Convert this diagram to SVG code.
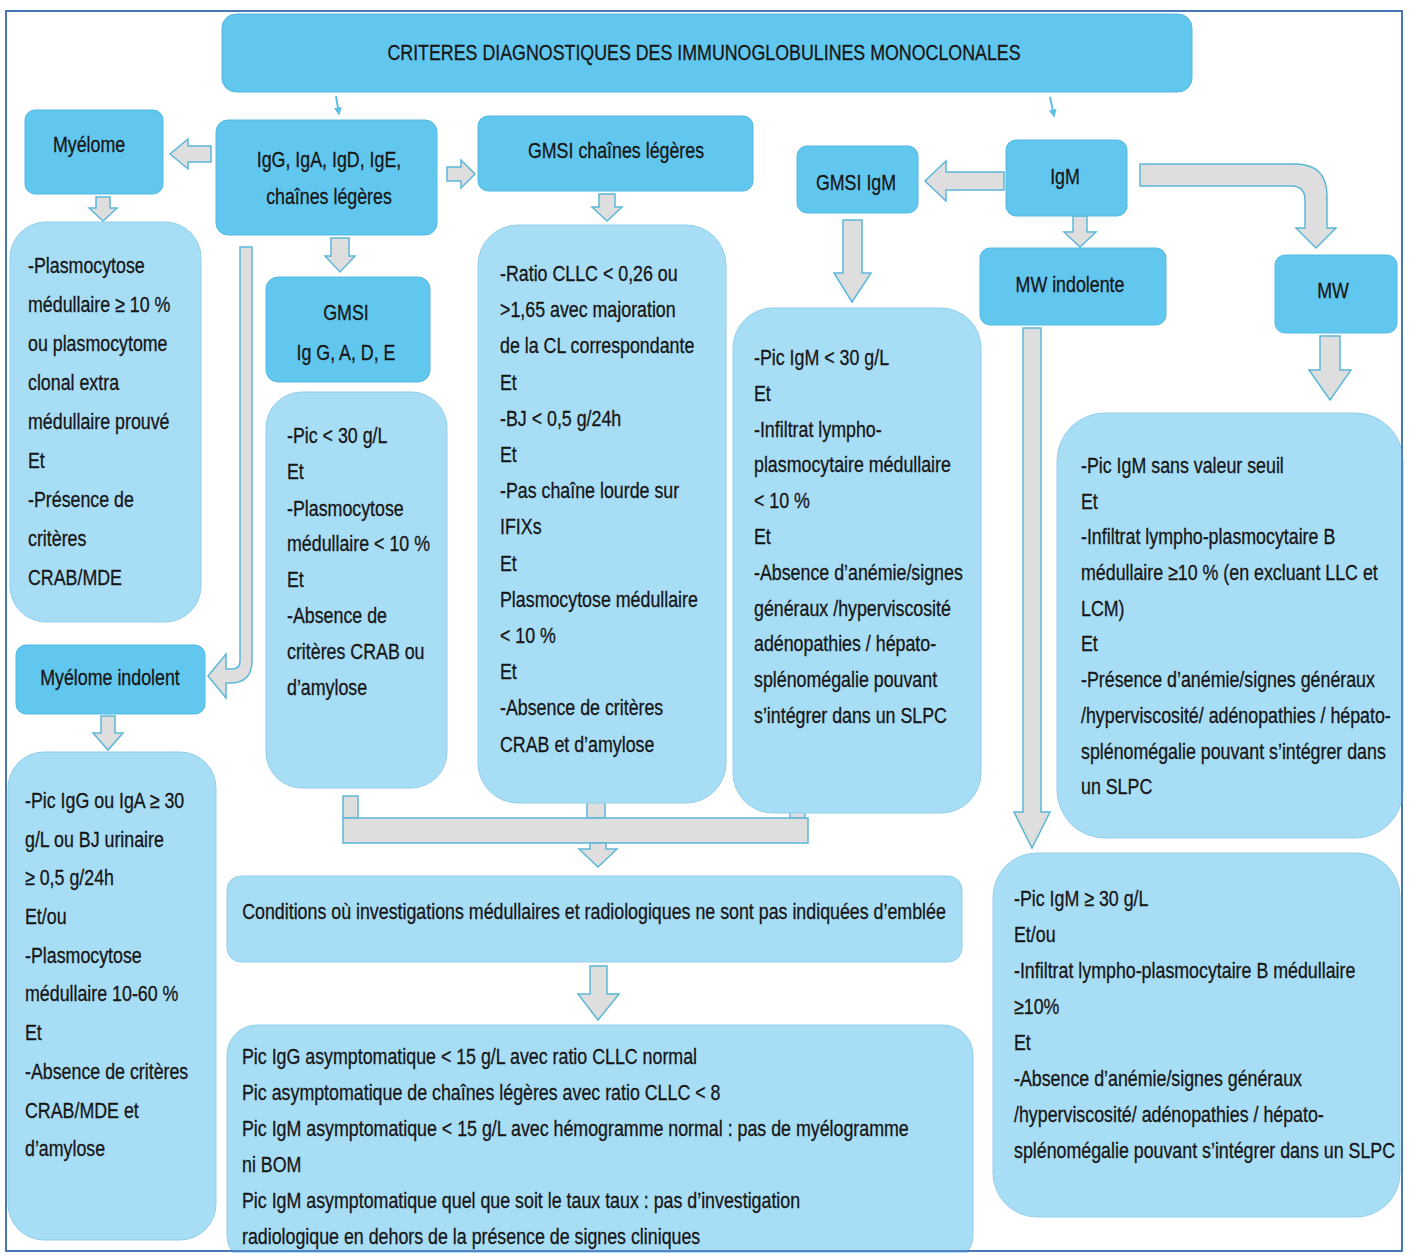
<svg xmlns="http://www.w3.org/2000/svg" width="1410" height="1253" viewBox="0 0 1410 1253">
  <defs>
    <style>
      .frame { fill: #ffffff; stroke: #3f72b5; stroke-width: 1.6; }
      .head { fill: #62c7ef; stroke: #52b9e2; stroke-width: 1; }
      .crit { fill: #a8ddf6; stroke: #92cfec; stroke-width: 1; }
      .blk { fill: #dedede; stroke: #5cb8d8; stroke-width: 1.5; stroke-linejoin: miter; }
      .thin { fill: none; stroke: #5cbfe6; stroke-width: 2; }
      .t { font-family: "Liberation Sans", Arial, sans-serif; font-size: 22px; fill: #161616; stroke: #161616; stroke-width: 0.3; }
      .c { text-anchor: middle; }
    </style>
    <marker id="tip" viewBox="0 0 10 10" refX="8" refY="5" markerWidth="4" markerHeight="4" orient="auto">
      <path d="M0,0 L10,5 L0,10 Z" fill="#5cbfe6"/>
    </marker>
  </defs>

  <!-- page frame -->
  <rect class="frame" x="6" y="11" width="1396" height="1240"/>

  <!-- connectors -->
  <g id="connectors">
    <!-- title to the two families -->
    <path class="thin" d="M336,96 L339,114" marker-end="url(#tip)"/>
    <path class="thin" d="M1050,97 L1054,116" marker-end="url(#tip)"/>
    <!-- IgG box to Myélome -->
    <path class="blk" d="M211,146 L188,146 L188,139 L170,154 L188,169 L188,162 L211,162 Z"/>
    <!-- IgG box to GMSI chaînes légères -->
    <path class="blk" d="M447,167 L461,167 L461,160 L475,174 L461,188 L461,181 L447,181 Z"/>
    <!-- Myélome to its criteria -->
    <path class="blk" d="M96,197 L110,197 L110,208 L117,208 L103,221 L89,208 L96,208 Z"/>
    <!-- IgG box to GMSI Ig G, A, D, E -->
    <path class="blk" d="M331,238 L349,238 L349,256 L355,256 L340,272 L325,256 L331,256 Z"/>
    <!-- GMSI chaînes légères to its criteria -->
    <path class="blk" d="M599,194 L615,194 L615,207 L622,207 L607,221 L592,207 L599,207 Z"/>
    <!-- IgG box down to Myélome indolent -->
    <path class="blk" d="M240,247 L252,247 L252,661 Q252,683 230,683 L226,683 L226,698 L208,676 L226,654 L226,669 L232,669 Q240,669 240,661 Z"/>
    <!-- IgM to GMSI IgM -->
    <path class="blk" d="M1004,172 L946,172 L946,161 L925,181 L946,201 L946,190 L1004,190 Z"/>
    <!-- IgM to MW -->
    <path class="blk" d="M1140,164 L1295,164 Q1327,164 1327,196 L1327,228 L1336,228 L1316,248 L1296,228 L1305,228 L1305,200 Q1305,186 1291,186 L1140,186 Z"/>
    <!-- IgM to MW indolente -->
    <path class="blk" d="M1073,216 L1087,216 L1087,232 L1096,232 L1080,247 L1064,232 L1073,232 Z"/>
    <!-- GMSI IgM to its criteria -->
    <path class="blk" d="M843,220 L862,220 L862,273 L871,273 L852,302 L834,273 L843,273 Z"/>
    <!-- MW indolente to its criteria -->
    <path class="blk" d="M1023,328 L1041,328 L1041,812 L1050,812 L1032,848 L1014,812 L1023,812 Z"/>
    <!-- MW to its criteria -->
    <path class="blk" d="M1320,336 L1340,336 L1340,370 L1351,370 L1330,400 L1309,370 L1320,370 Z"/>
    <!-- Myélome indolent to its criteria -->
    <path class="blk" d="M101,716 L115,716 L115,733 L123,733 L108,750 L93,733 L101,733 Z"/>
    <!-- GMSI branches merged into the conditions box -->
    <rect class="blk" x="343" y="796" width="15" height="22"/>
    <rect class="blk" x="587" y="800" width="18" height="18"/>
    <rect class="blk" x="790" y="812" width="15" height="6"/>
    <rect class="blk" x="343" y="818" width="465" height="25"/>
    <path class="blk" d="M590,843 L606,843 L606,849 L617,849 L598,867 L579,849 L590,849 Z"/>
    <!-- conditions to the list of situations -->
    <path class="blk" d="M590,966 L607,966 L607,994 L619,994 L598,1020 L578,994 L590,994 Z"/>
  </g>

  <!-- title -->
  <g id="title">
    <rect class="head" x="222" y="14" width="970" height="78" rx="14"/>
    <text class="t c" transform="translate(704,60) scale(0.81,1)">CRITERES DIAGNOSTIQUES DES IMMUNOGLOBULINES MONOCLONALES</text>
  </g>

  <g id="myelome">
    <rect class="head" x="25" y="110" width="138" height="84" rx="10"/>
    <text class="t c" transform="translate(89,152) scale(0.81,1)">Myélome</text>
  </g>

  <g id="igg-iga">
    <rect class="head" x="216" y="120" width="221" height="115" rx="12"/>
    <text class="t c" transform="translate(329,167) scale(0.81,1)"><tspan x="0" y="0">IgG, IgA, IgD, IgE,</tspan><tspan x="0" dy="37">chaînes légères</tspan></text>
  </g>

  <g id="gmsi-cl">
    <rect class="head" x="478" y="116" width="275" height="75" rx="10"/>
    <text class="t c" transform="translate(616,158) scale(0.81,1)">GMSI chaînes légères</text>
  </g>

  <g id="gmsi-igm">
    <rect class="head" x="797" y="146" width="121" height="67" rx="10"/>
    <text class="t c" transform="translate(856,190) scale(0.81,1)">GMSI  IgM</text>
  </g>

  <g id="igm">
    <rect class="head" x="1006" y="140" width="121" height="76" rx="10"/>
    <text class="t c" transform="translate(1065,184) scale(0.81,1)">IgM</text>
  </g>

  <g id="mw-indolente">
    <rect class="head" x="980" y="248" width="186" height="77" rx="10"/>
    <text class="t c" transform="translate(1070,292) scale(0.81,1)">MW indolente</text>
  </g>

  <g id="mw">
    <rect class="head" x="1275" y="255" width="122" height="78" rx="10"/>
    <text class="t c" transform="translate(1333,298) scale(0.81,1)">MW</text>
  </g>

  <g id="gmsi-igg">
    <rect class="head" x="266" y="277" width="164" height="105" rx="12"/>
    <text class="t c" transform="translate(346,320) scale(0.81,1)"><tspan x="0" y="0">GMSI</tspan><tspan x="0" dy="40">Ig G, A, D, E</tspan></text>
  </g>

  <g id="myelome-indolent">
    <rect class="head" x="16" y="645" width="189" height="69" rx="10"/>
    <text class="t c" transform="translate(110,685) scale(0.81,1)">Myélome indolent</text>
  </g>

  <!-- criteria boxes -->
  <g id="myelome-criteres">
    <rect class="crit" x="10" y="222" width="191" height="400" rx="36"/>
    <text class="t" transform="translate(28,273) scale(0.81,1)">
      <tspan x="0" y="0">-Plasmocytose</tspan>
      <tspan x="0" dy="39">médullaire ≥ 10 %</tspan>
      <tspan x="0" dy="39">ou plasmocytome</tspan>
      <tspan x="0" dy="39">clonal extra</tspan>
      <tspan x="0" dy="39">médullaire prouvé</tspan>
      <tspan x="0" dy="39">Et</tspan>
      <tspan x="0" dy="39">-Présence de</tspan>
      <tspan x="0" dy="39">critères</tspan>
      <tspan x="0" dy="39">CRAB/MDE</tspan>
    </text>
  </g>

  <g id="gmsi-igg-criteres">
    <rect class="crit" x="266" y="392" width="181" height="396" rx="36"/>
    <text class="t" transform="translate(287,443) scale(0.81,1)">
      <tspan x="0" y="0">-Pic &lt; 30 g/L</tspan>
      <tspan x="0" dy="36">Et</tspan>
      <tspan x="0" dy="37">-Plasmocytose</tspan>
      <tspan x="0" dy="35">médullaire &lt; 10 %</tspan>
      <tspan x="0" dy="36">Et</tspan>
      <tspan x="0" dy="36">-Absence de</tspan>
      <tspan x="0" dy="36">critères CRAB ou</tspan>
      <tspan x="0" dy="36">d’amylose</tspan>
    </text>
  </g>

  <g id="gmsi-cl-criteres">
    <rect class="crit" x="478" y="225" width="248" height="578" rx="40"/>
    <text class="t" transform="translate(500,281) scale(0.81,1)">
      <tspan x="0" y="0">-Ratio CLLC &lt; 0,26 ou</tspan>
      <tspan x="0" dy="36.2">&gt;1,65 avec majoration</tspan>
      <tspan x="0" dy="36.2">de la CL correspondante</tspan>
      <tspan x="0" dy="36.2">Et</tspan>
      <tspan x="0" dy="36.2">-BJ &lt; 0,5 g/24h</tspan>
      <tspan x="0" dy="36.2">Et</tspan>
      <tspan x="0" dy="36.2">-Pas chaîne lourde sur</tspan>
      <tspan x="0" dy="36.2">IFIXs</tspan>
      <tspan x="0" dy="36.2">Et</tspan>
      <tspan x="0" dy="36.2">Plasmocytose médullaire</tspan>
      <tspan x="0" dy="36.2">&lt; 10 %</tspan>
      <tspan x="0" dy="36.2">Et</tspan>
      <tspan x="0" dy="36.2">-Absence de critères</tspan>
      <tspan x="0" dy="36.2">CRAB et d’amylose</tspan>
    </text>
  </g>

  <g id="gmsi-igm-criteres">
    <rect class="crit" x="733" y="308" width="248" height="505" rx="40"/>
    <text class="t" transform="translate(754,365) scale(0.81,1)">
      <tspan x="0" y="0">-Pic IgM &lt; 30 g/L</tspan>
      <tspan x="0" dy="35.8">Et</tspan>
      <tspan x="0" dy="35.8">-Infiltrat lympho-</tspan>
      <tspan x="0" dy="35.8">plasmocytaire médullaire</tspan>
      <tspan x="0" dy="35.8">&lt; 10 %</tspan>
      <tspan x="0" dy="35.8">Et</tspan>
      <tspan x="0" dy="35.8">-Absence d’anémie/signes</tspan>
      <tspan x="0" dy="35.8">généraux /hyperviscosité</tspan>
      <tspan x="0" dy="35.8">adénopathies / hépato-</tspan>
      <tspan x="0" dy="35.8">splénomégalie pouvant</tspan>
      <tspan x="0" dy="35.8">s’intégrer dans un SLPC</tspan>
    </text>
  </g>

  <g id="mw-criteres">
    <rect class="crit" x="1057" y="413" width="346" height="425" rx="48"/>
    <text class="t" transform="translate(1081,473) scale(0.81,1)">
      <tspan x="0" y="0">-Pic IgM sans valeur seuil</tspan>
      <tspan x="0" dy="35.7">Et</tspan>
      <tspan x="0" dy="35.7">-Infiltrat lympho-plasmocytaire B</tspan>
      <tspan x="0" dy="35.7">médullaire ≥10 % (en excluant LLC et</tspan>
      <tspan x="0" dy="35.7">LCM)</tspan>
      <tspan x="0" dy="35.7">Et</tspan>
      <tspan x="0" dy="35.7">-Présence d’anémie/signes généraux</tspan>
      <tspan x="0" dy="35.7">/hyperviscosité/ adénopathies / hépato-</tspan>
      <tspan x="0" dy="35.7">splénomégalie pouvant s’intégrer dans</tspan>
      <tspan x="0" dy="35.7">un SLPC</tspan>
    </text>
  </g>

  <g id="myelome-indolent-criteres">
    <rect class="crit" x="8" y="752" width="208" height="488" rx="36"/>
    <text class="t" transform="translate(25,808) scale(0.81,1)">
      <tspan x="0" y="0">-Pic IgG ou IgA ≥ 30</tspan>
      <tspan x="0" dy="38.7">g/L ou BJ urinaire</tspan>
      <tspan x="0" dy="38.7">≥ 0,5 g/24h</tspan>
      <tspan x="0" dy="38.7">Et/ou</tspan>
      <tspan x="0" dy="38.7">-Plasmocytose</tspan>
      <tspan x="0" dy="38.7">médullaire 10-60 %</tspan>
      <tspan x="0" dy="38.7">Et</tspan>
      <tspan x="0" dy="38.7">-Absence de critères</tspan>
      <tspan x="0" dy="38.7">CRAB/MDE et</tspan>
      <tspan x="0" dy="38.7">d’amylose</tspan>
    </text>
  </g>

  <g id="conditions">
    <rect class="crit" x="227" y="876" width="735" height="86" rx="14"/>
    <text class="t c" transform="translate(594,919) scale(0.81,1)">Conditions où investigations médullaires et radiologiques ne sont pas indiquées d’emblée</text>
  </g>

  <g id="situations">
    <rect class="crit" x="227" y="1025" width="746" height="240" rx="30"/>
    <text class="t" transform="translate(242,1064) scale(0.81,1)">
      <tspan x="0" y="0">Pic IgG asymptomatique &lt; 15 g/L avec ratio CLLC normal</tspan>
      <tspan x="0" dy="36">Pic asymptomatique de chaînes légères avec ratio CLLC &lt; 8</tspan>
      <tspan x="0" dy="36">Pic IgM asymptomatique &lt; 15 g/L avec hémogramme  normal : pas de myélogramme</tspan>
      <tspan x="0" dy="36">ni BOM</tspan>
      <tspan x="0" dy="36">Pic IgM asymptomatique quel que soit le taux taux : pas d’investigation</tspan>
      <tspan x="0" dy="36">radiologique en dehors de la présence de signes cliniques</tspan>
    </text>
  </g>

  <g id="mw-indolente-criteres">
    <rect class="crit" x="993" y="853" width="407" height="364" rx="44"/>
    <text class="t" transform="translate(1014,906) scale(0.81,1)">
      <tspan x="0" y="0">-Pic IgM ≥ 30 g/L</tspan>
      <tspan x="0" dy="36">Et/ou</tspan>
      <tspan x="0" dy="36">-Infiltrat lympho-plasmocytaire B médullaire</tspan>
      <tspan x="0" dy="36">≥10%</tspan>
      <tspan x="0" dy="36">Et</tspan>
      <tspan x="0" dy="36">-Absence d’anémie/signes généraux</tspan>
      <tspan x="0" dy="36">/hyperviscosité/ adénopathies / hépato-</tspan>
      <tspan x="0" dy="36">splénomégalie pouvant s’intégrer dans un SLPC</tspan>
    </text>
  </g>

  <!-- frame edge drawn over the boxes that reach it -->
  <rect x="6" y="11" width="1396" height="1240" fill="none" stroke="#3f72b5" stroke-width="1.6"/>
</svg>
